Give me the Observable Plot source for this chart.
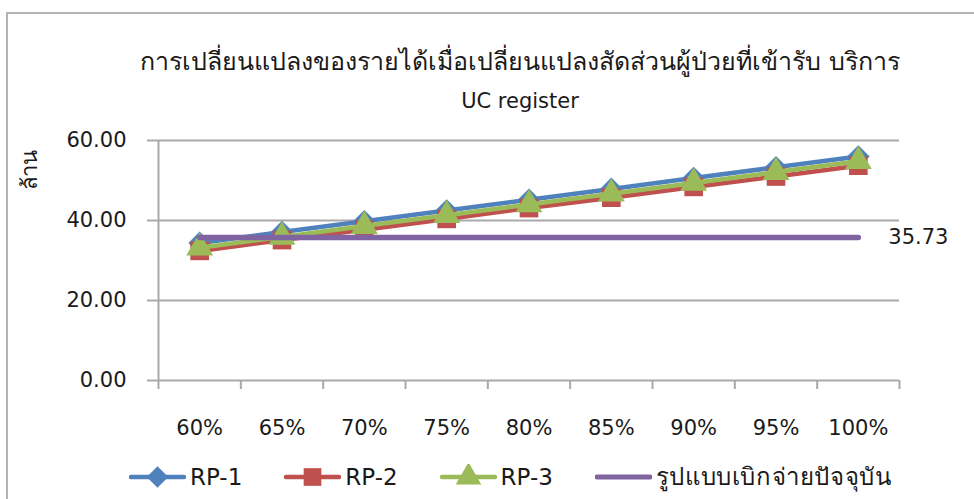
<!DOCTYPE html>
<html>
<head>
<meta charset="utf-8">
<script src="https://cdn.jsdelivr.net/npm/d3@7"></script>
<script src="https://cdn.jsdelivr.net/npm/@observablehq/plot@0.6"></script>
<style>
  body { margin: 0; background: #fff; }
  #wrap { position: relative; width: 974px; height: 499px; overflow: hidden; font-family: "DejaVu Sans", "Noto Sans", sans-serif; color: #1a1a1a; }
  #frame { position: absolute; left: 6px; top: 12px; width: 1100px; height: 700px; border: 2px solid #b4b4b4; box-sizing: border-box; }
  #title { position: absolute; left: 0; top: 41px; width: 1040px; text-align: center; font-size: 25px; white-space: nowrap; }
  #subtitle { position: absolute; left: 0; top: 89px; width: 1040px; text-align: center; font-size: 21px; }
  #ylab { position: absolute; left: 29px; top: 170px; font-size: 22px; transform: translate(-50%, -50%) rotate(-90deg); white-space: nowrap; }
  #chart { position: absolute; left: 0; top: 0; }
  #legend { position: absolute; left: 129px; top: 457px; display: flex; align-items: center; font-size: 23px; white-space: nowrap; }
  #legend .item { display: flex; align-items: center; margin-right: 42px; }
  #legend .item:last-child span { font-size: 24px; letter-spacing: 0.6px; }
  #legend svg { display: block; margin-right: 4px; }
</style>
</head>
<body>
<div id="wrap">
  <div id="frame"></div>
  <div id="title"></div>
  <div id="subtitle"></div>
  <div id="ylab"></div>
  <div id="chart"></div>
  <div id="legend"></div>
</div>
<script>
const titleText = "การเปลี่ยนแปลงของรายได้เมื่อเปลี่ยนแปลงสัดส่วนผู้ป่วยที่เข้ารับ บริการ";
const subtitleText = "UC register";
const yLabel = "ล้าน";
const categories = ["60%", "65%", "70%", "75%", "80%", "85%", "90%", "95%", "100%"];
const rp1 = [34.4, 37.1, 39.8, 42.5, 45.2, 47.9, 50.6, 53.3, 56.0];
const rp2 = [32.4, 35.1, 37.7, 40.4, 43.1, 45.7, 48.4, 51.0, 53.7];
const rp3 = [33.2, 35.9, 38.6, 41.3, 44.0, 46.7, 49.4, 52.1, 54.8];
const current = [35.73, 35.73, 35.73, 35.73, 35.73, 35.73, 35.73, 35.73, 35.73];
const yTicks = [0, 20, 40, 60];
const seriesNames = ["RP-1", "RP-2", "RP-3", "รูปแบบเบิกจ่ายปัจจุบัน"];
const seriesColors = ["#4F81BD", "#C0504D", "#9BBB59", "#8064A2"];
const seriesSymbols = ["diamond", "square", "triangle", null];

document.getElementById("title").textContent = titleText;
document.getElementById("subtitle").textContent = subtitleText;
document.getElementById("ylab").textContent = yLabel;

// wide (Excel-like) diamond
const wideDiamond = {
  draw(context, size) {
    const h = Math.sqrt(size / 2);
    context.moveTo(0, -h);
    context.lineTo(h, 0);
    context.lineTo(0, h);
    context.lineTo(-h, 0);
    context.closePath();
  }
};
const symbolObj = {diamond: wideDiamond, square: d3.symbolSquare, triangle: d3.symbolTriangle};
const symR = {diamond: 9, square: 10.5, triangle: 10};

const seriesValues = [rp1, rp2, rp3, current];
const rows = seriesValues.map((vals, s) => vals.map((v, i) => ({i, v, s})));
const idx = categories.map((c, i) => i);
const bounds = categories.map((c, i) => i - 0.5).concat([categories.length - 0.5]);
const gray = "#a9a9a9";

const marks = [
  Plot.gridY(yTicks, {stroke: gray, strokeOpacity: 1, strokeWidth: 2}),
  Plot.ruleX([bounds[0]], {stroke: gray, strokeWidth: 2}),
  Plot.axisY({ticks: yTicks, tickFormat: d => d.toFixed(2), tickSize: 11, tickPadding: 21, fontSize: 21, stroke: gray, strokeWidth: 2, label: null, fill: "#1a1a1a"}),
  Plot.axisX({ticks: bounds, tickFormat: () => "", tickSize: 9, stroke: gray, strokeWidth: 2, label: null}),
  Plot.axisX({ticks: idx, tickFormat: i => categories[i], tickSize: 0, tickPadding: 40, fontSize: 21, label: null, fill: "#1a1a1a"})
];
rows.forEach((r, s) => {
  marks.push(Plot.line(r, {x: "i", y: "v", stroke: seriesColors[s], strokeWidth: s === 3 ? 5.5 : 4.5}));
  if (seriesSymbols[s]) {
    marks.push(Plot.dot(r, {x: "i", y: "v", symbol: symbolObj[seriesSymbols[s]], r: symR[seriesSymbols[s]], fill: seriesColors[s], stroke: "none"}));
  }
});
marks.push(Plot.text([current[current.length - 1]], {x: () => categories.length - 1, y: d => d, text: d => d.toFixed(2), textAnchor: "start", dx: 30, fontSize: 21, fill: "#1a1a1a"}));

const chart = Plot.plot({
  width: 974,
  height: 445,
  marginTop: 140,
  marginBottom: 65,
  marginLeft: 158,
  marginRight: 75,
  style: {fontFamily: "'DejaVu Sans', 'Noto Sans', sans-serif", background: "transparent", overflow: "visible"},
  x: {type: "linear", domain: [bounds[0], bounds[bounds.length - 1]]},
  y: {domain: [0, 60]},
  marks
});
document.getElementById("chart").appendChild(chart);

// legend
const legend = d3.select("#legend");
seriesNames.forEach((name, s) => {
  const item = legend.append("div").attr("class", "item");
  const svg = item.append("svg").attr("width", 57).attr("height", 26);
  svg.append("line").attr("x1", 2).attr("x2", 55).attr("y1", 13).attr("y2", 13)
    .attr("stroke", seriesColors[s]).attr("stroke-width", s === 3 ? 5 : 4.5).attr("stroke-linecap", "round");
  if (seriesSymbols[s]) {
    const rr = symR[seriesSymbols[s]] * 0.95;
    svg.append("path").attr("transform", "translate(28.5,13)")
      .attr("d", d3.symbol(symbolObj[seriesSymbols[s]], Math.PI * rr * rr)())
      .attr("fill", seriesColors[s]);
  }
  item.append("span").text(name);
});
</script>
</body>
</html>
